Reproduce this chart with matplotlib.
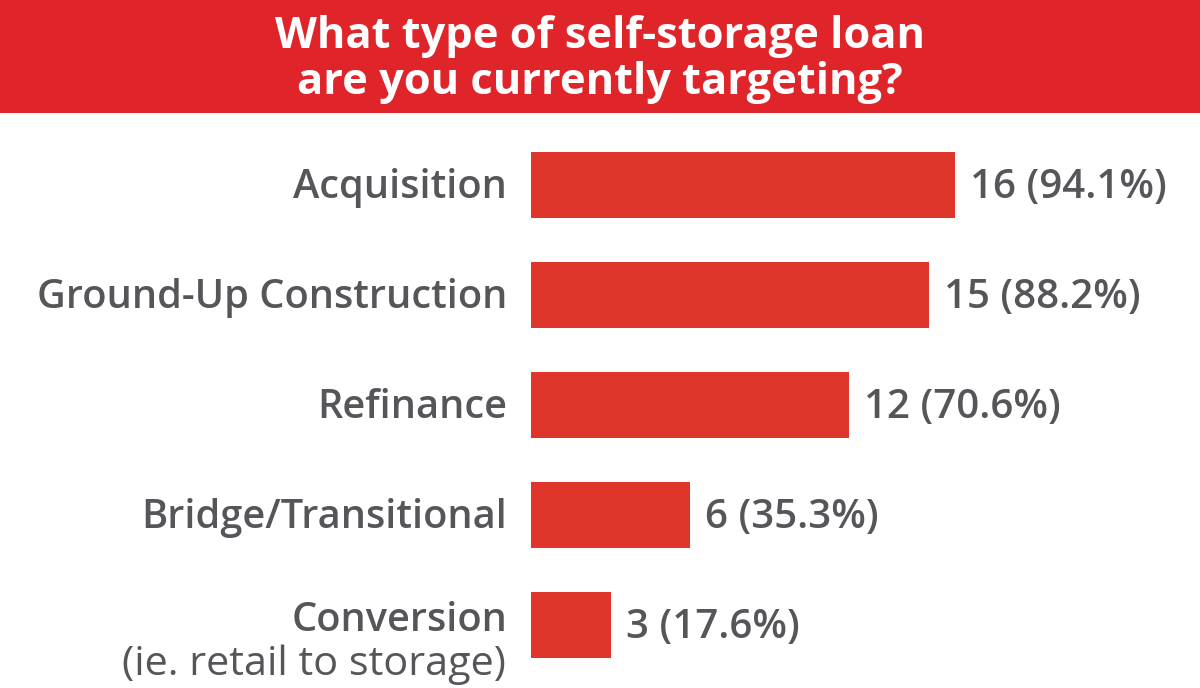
import matplotlib
matplotlib.use("Agg")
import matplotlib.pyplot as plt
from matplotlib.patches import Rectangle

categories = ["Acquisition", "Ground-Up Construction", "Refinance",
              "Bridge/Transitional", "Conversion"]
counts = [16, 15, 12, 6, 3]
percents = [94.1, 88.2, 70.6, 35.3, 17.6]
title_lines = ["What type of self-storage loan", "are you currently targeting?"]
subnote = "(ie. retail to storage)"

RED_BAND = "#e0252a"
RED_BAR = "#e0352b"
GREY = "#55565a"

plt.rcParams['font.family'] = ['Open Sans', 'DejaVu Sans']

fig = plt.figure(figsize=(12, 6.88), dpi=100)
fig.patch.set_facecolor("white")
renderer = fig.canvas.get_renderer()


def fit(texts, ref, width_px):
    # scale a group of texts so the reference one is width_px wide
    w = ref.get_window_extent(renderer).width
    for t in texts:
        t.set_fontsize(t.get_fontsize() * width_px / w)


# red title band
fig.add_artist(Rectangle((0, 1 - 113 / 688), 1, 113 / 688, transform=fig.transFigure,
                         facecolor=RED_BAND, edgecolor="none"))
t1 = fig.text(0.5, 1 - 37 / 688, title_lines[0], ha="center", va="center",
              color="white", fontsize=27, fontweight="bold")
t2 = fig.text(0.5, 1 - 83 / 688, title_lines[1], ha="center", va="center",
              color="white", fontsize=27, fontweight="bold")
fit([t1, t2], t1, 648)

# bars in pixel-aligned axes
ax = fig.add_axes([531 / 1200, 1 - 680 / 688, 662.5 / 1200, 550 / 688])
ypos = list(range(len(categories)))
ax.barh(ypos, counts, height=0.6, color=RED_BAR, left=0)
ax.set_xlim(0, 25)
ax.set_ylim(4.5, -0.5)
ax.axis("off")

vals = []
for y, c, p in zip(ypos, counts, percents):
    vals.append(ax.text(c + 0.57, y + 0.03, f"{c} ({p:.1f}%)", va="center", ha="left",
                        color=GREY, fontsize=24, fontweight=600))
fit(vals, vals[0], 197)

labels = []
for y, name in zip(ypos, categories):
    dy = 0.03 if name != "Conversion" else -0.04
    labels.append(ax.text(-0.9, y + dy, name, va="center", ha="right", color=GREY,
                          fontsize=24, fontweight=600))
fit(labels, labels[1], 471)
sub = ax.text(-0.95, 4.36, subnote, va="center", ha="right", color=GREY,
              fontsize=24, fontweight="normal")
fit([sub], sub, 385)

fig.savefig("out.png", dpi=100)
